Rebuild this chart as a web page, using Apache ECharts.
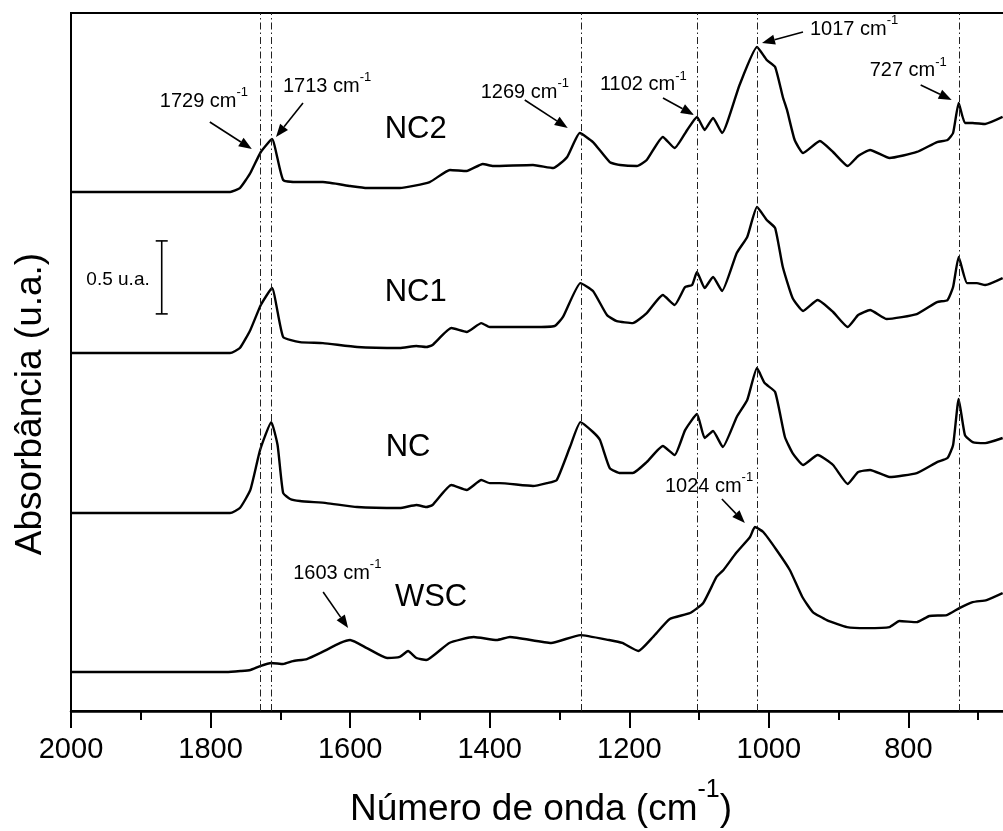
<!DOCTYPE html>
<html><head><meta charset="utf-8">
<script src="https://cdn.jsdelivr.net/npm/echarts@6/dist/echarts.min.js"></script>
<style>html,body{margin:0;padding:0;background:#fff;overflow:hidden}#c{width:1003px;height:831px}</style>
</head><body><div id="c"></div>
<script>
// ---- data (wavenumber in cm-1, absorbance above each curve's baseline in u.a.) ----
const wnNC2 = [2000,1772,1758,1743,1728,1712,1696,1672,1639,1600,1576,1529,1486,1457,1433,1410,1395,1338,1309,1289,1271,1252,1228,1213,1189,1175,1152,1135,1117,1103,1092,1080,1067,1042,1017,1003,991,980,974,963,951,927,908,887,872,855,827,788,759,744,736,728,719,708,690,665];
const absNC2 = [0,0,0.027,0.130,0.274,0.363,0.082,0.068,0.068,0.041,0.027,0.027,0.068,0.151,0.144,0.192,0.178,0.185,0.164,0.240,0.404,0.342,0.205,0.185,0.178,0.219,0.377,0.301,0.425,0.514,0.425,0.507,0.404,0.733,0.993,0.904,0.856,0.651,0.562,0.356,0.267,0.349,0.274,0.178,0.247,0.288,0.233,0.274,0.342,0.356,0.404,0.610,0.473,0.473,0.466,0.514];

const wnNC1 = [2000,1772,1758,1743,1728,1712,1696,1672,1639,1590,1529,1505,1491,1482,1455,1433,1412,1400,1386,1338,1307,1295,1270,1252,1232,1218,1195,1175,1152,1135,1120,1110,1103,1092,1080,1067,1046,1031,1017,1003,991,980,966,951,930,908,887,872,855,831,788,759,744,736,728,716,702,690,665];
const absNC1 = [0,0,0.034,0.158,0.329,0.445,0.110,0.075,0.068,0.041,0.034,0.048,0.041,0.055,0.171,0.144,0.205,0.178,0.178,0.178,0.185,0.247,0.479,0.425,0.260,0.219,0.205,0.274,0.397,0.329,0.452,0.466,0.555,0.445,0.521,0.425,0.685,0.795,1.0,0.911,0.856,0.589,0.377,0.288,0.363,0.281,0.178,0.260,0.295,0.233,0.267,0.349,0.363,0.452,0.658,0.479,0.479,0.466,0.514];

const wnNC = [2000,1772,1758,1743,1729,1713,1704,1696,1686,1672,1634,1590,1529,1505,1491,1482,1455,1433,1412,1400,1386,1338,1318,1304,1285,1270,1252,1242,1228,1213,1195,1175,1152,1135,1120,1103,1092,1080,1066,1046,1031,1017,1006,991,977,966,951,930,908,887,872,855,827,788,759,744,736,728,719,708,690,665];
const absNC = [0,0,0.034,0.158,0.432,0.623,0.466,0.137,0.096,0.082,0.068,0.041,0.034,0.055,0.041,0.055,0.192,0.158,0.226,0.205,0.205,0.185,0.205,0.226,0.452,0.623,0.555,0.500,0.308,0.274,0.274,0.349,0.459,0.397,0.568,0.678,0.514,0.562,0.452,0.658,0.774,0.993,0.890,0.829,0.521,0.411,0.329,0.397,0.329,0.199,0.281,0.295,0.247,0.274,0.349,0.377,0.466,0.781,0.534,0.486,0.479,0.514];

const wnWSC = [2000,1777,1757,1743,1729,1713,1696,1682,1662,1643,1614,1600,1576,1547,1529,1517,1505,1491,1458,1423,1390,1371,1312,1270,1229,1210,1187,1166,1142,1113,1094,1075,1065,1047,1027,1020,1008,989,970,952,937,917,888,860,827,813,788,770,745,727,708,688,665];
const absWSC = [0,0,0.007,0.014,0.041,0.062,0.055,0.075,0.089,0.130,0.199,0.219,0.164,0.096,0.103,0.144,0.096,0.082,0.199,0.240,0.219,0.240,0.199,0.253,0.219,0.199,0.144,0.240,0.363,0.404,0.473,0.651,0.699,0.815,0.925,0.993,0.959,0.836,0.699,0.514,0.411,0.356,0.308,0.301,0.308,0.349,0.342,0.384,0.390,0.438,0.479,0.493,0.541];

const seriesNames = ['NC2','NC1','NC','WSC'];
const seriesOffsets = [3.555, 2.452, 1.356, 0.267];   // vertical stacking offsets (u.a.)
const peakLines = [1729, 1713, 1269, 1102, 1017, 727];
const peakLabels = ['1729','1713','1269','1102','1017','727','1024','1603'];
const peakAnchorWn = [1728, 1712, 1271, 1103, 1017, 728, 1020, 1600];
const peakAnchorSeries = ['NC2','NC2','NC2','NC2','NC2','NC2','WSC','WSC'];
const scaleBarValue = 0.5;
const xMin = 600, xMax = 2000, xStep = 200;
const yMin = 0, yMax = 4.781;
const xTitle = 'Número de onda (cm';
const yTitle = 'Absorbância (u.a.)';

const wnAll = [wnNC2, wnNC1, wnNC, wnWSC];
const absAll = [absNC2, absNC1, absNC, absWSC];

// ---- layout (pixels) ----
const FONT = '"Liberation Sans", Arial, sans-serif';
const annLayout = [
  {text:[-101,-51], tip:[-9,-3],  tail:[-51,-30]},
  {text:[11,-53],   tip:[4,-2],   tail:[31,-36]},
  {text:[-99,-41],  tip:[-12,-5], tail:[-55,-33]},
  {text:[-97,-32],  tip:[-3,-2],  tail:[-34,-19]},
  {text:[53,-18],   tip:[5,-4],   tail:[46,-15]},
  {text:[-89,-32],  tip:[-7,-3],  tail:[-38,-18]},
  {text:[-90,-41],  tip:[-10,-4], tail:[-33,-28]},
  {text:[-57,-67],  tip:[-2,-12], tail:[-27,-48]}
];
const nameLayout = [ {wn:1506, dy:-63}, {wn:1506, dy:-61}, {wn:1517, dy:-66}, {wn:1484, dy:-75} ];
const scaleBarLayout = {wn:1870, base:2.72};

const chart = echarts.init(document.getElementById('c'), null, {renderer:'canvas'});

const series = seriesNames.map((name, k) => ({
  name, type:'line', showSymbol:false, smooth:0.15, animation:false,
  lineStyle:{color:'#000', width:2.4}, itemStyle:{color:'#000'},
  data: wnAll[k].map((w,i) => [w, absAll[k][i] + seriesOffsets[k]]),
  markLine: k === 0 ? {
    silent:true, symbol:'none', animation:false, label:{show:false},
    lineStyle:{color:'#222', width:1, type:[7,3,1.5,3]},
    data: peakLines.map(v => ({xAxis:v}))
  } : undefined
}));

chart.setOption({
  animation:false,
  grid:{left:71, top:13, width:977, height:698, containLabel:false, outerBoundsMode:'none',
        show:true, borderColor:'#000', borderWidth:2, backgroundColor:'transparent'},
  xAxis:{
    type:'value', inverse:true, min:xMin, max:xMax, interval:xStep,
    axisLine:{show:true, lineStyle:{color:'#000', width:2.5}},
    axisTick:{show:true, length:17, lineStyle:{color:'#000', width:2}},
    minorTick:{show:true, splitNumber:2, length:9, lineStyle:{color:'#000', width:2}},
    axisLabel:{fontSize:29, color:'#000', fontFamily:FONT, margin:24, formatter:v => String(v)},
    splitLine:{show:false}
  },
  yAxis:{type:'value', min:yMin, max:yMax, show:false},
  series
});

function anchorPx(sName, wn){
  const k = seriesNames.indexOf(sName);
  const i = wnAll[k].indexOf(wn);
  return chart.convertToPixel({gridIndex:0}, [wn, absAll[k][i] + seriesOffsets[k]]);
}

const g = [];
// annotations
peakLabels.forEach((lab, j) => {
  const a = anchorPx(peakAnchorSeries[j], peakAnchorWn[j]);
  const L = annLayout[j];
  const tip = [a[0]+L.tip[0], a[1]+L.tip[1]];
  const tail = [a[0]+L.tail[0], a[1]+L.tail[1]];
  const dx = tip[0]-tail[0], dy = tip[1]-tail[1];
  const len = Math.hypot(dx,dy), ux = dx/len, uy = dy/len;
  const HL = 13, HW = 5;
  const base = [tip[0]-ux*HL, tip[1]-uy*HL];
  g.push({type:'line', shape:{x1:tail[0], y1:tail[1], x2:base[0], y2:base[1]}, style:{stroke:'#000', lineWidth:1.6}, silent:true});
  g.push({type:'polygon', shape:{points:[tip, [base[0]-uy*HW, base[1]+ux*HW], [base[0]+uy*HW, base[1]-ux*HW]]}, style:{fill:'#000'}, silent:true});
  g.push({type:'text', x:a[0]+L.text[0], y:a[1]+L.text[1], silent:true,
    style:{text:'{a|'+lab+' cm}{s|-1}', fill:'#000', align:'left', verticalAlign:'middle',
      rich:{a:{fontSize:20, lineHeight:30, fontFamily:FONT, fill:'#000'},
            s:{fontSize:13, lineHeight:13, verticalAlign:'top', fontFamily:FONT, fill:'#000'}}}});
});
// series names
seriesNames.forEach((name, k) => {
  const p = chart.convertToPixel({gridIndex:0}, [nameLayout[k].wn, seriesOffsets[k]]);
  g.push({type:'text', x:p[0], y:p[1]+nameLayout[k].dy, silent:true,
    style:{text:name, fill:'#000', fontSize:31, fontFamily:FONT, align:'center', verticalAlign:'middle'}});
});
// scale bar
(function(){
  const p0 = chart.convertToPixel({gridIndex:0}, [scaleBarLayout.wn, scaleBarLayout.base]);
  const p1 = chart.convertToPixel({gridIndex:0}, [scaleBarLayout.wn, scaleBarLayout.base + scaleBarValue]);
  const st = {stroke:'#000', lineWidth:1.6};
  g.push({type:'line', shape:{x1:p0[0], y1:p0[1], x2:p1[0], y2:p1[1]}, style:st, silent:true});
  g.push({type:'line', shape:{x1:p0[0]-6, y1:p0[1], x2:p0[0]+6, y2:p0[1]}, style:st, silent:true});
  g.push({type:'line', shape:{x1:p1[0]-6, y1:p1[1], x2:p1[0]+6, y2:p1[1]}, style:st, silent:true});
  g.push({type:'text', x:p0[0]-12, y:(p0[1]+p1[1])/2 + 2, silent:true,
    style:{text:scaleBarValue+' u.a.', fill:'#000', fontSize:19, fontFamily:FONT, align:'right', verticalAlign:'middle'}});
})();
// axis titles
g.push({type:'text', x:541, y:810, silent:true,
  style:{text:'{a|'+xTitle+'}{s|-1}{a|)}', fill:'#000', align:'center', verticalAlign:'middle',
    rich:{a:{fontSize:37, lineHeight:64, fontFamily:FONT, fill:'#000'},
          s:{fontSize:25, lineHeight:25, verticalAlign:'top', fontFamily:FONT, fill:'#000'}}}});
g.push({type:'text', x:31, y:404, rotation:Math.PI/2, silent:true,
  style:{text:yTitle, fill:'#000', fontSize:37, fontFamily:FONT, align:'center', verticalAlign:'middle'}});

chart.setOption({graphic:g});
</script>
</body></html>
